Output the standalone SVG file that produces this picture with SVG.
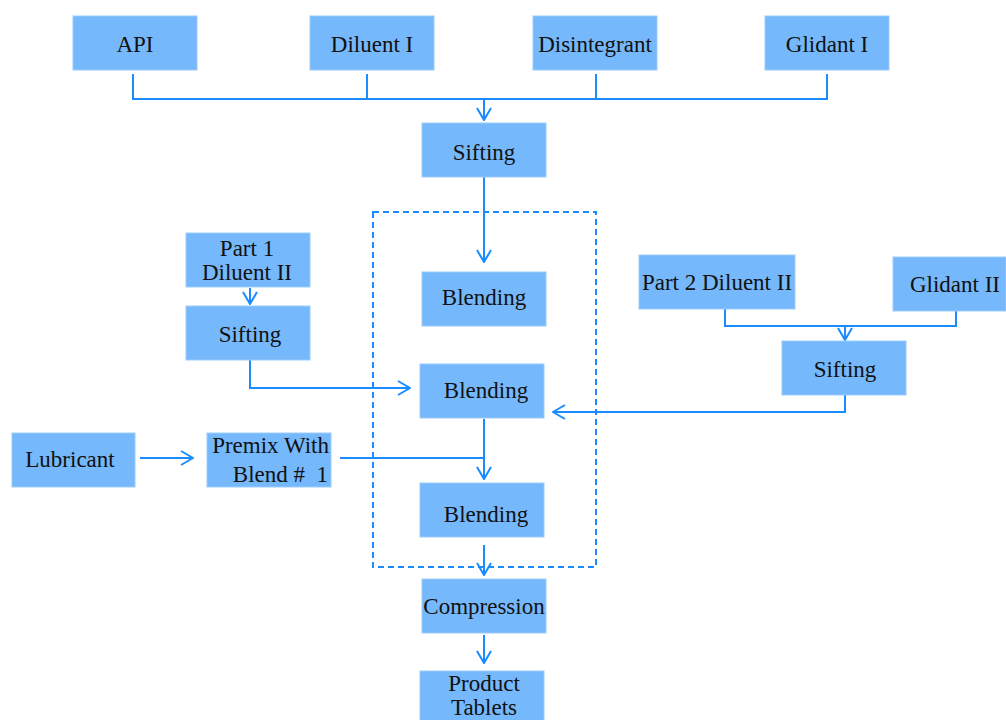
<svg xmlns="http://www.w3.org/2000/svg" width="1006" height="720" viewBox="0 0 1006 720">
<style>
.box{fill:#75b8fb;stroke:#9ccbfb;stroke-width:1}
.t{font-family:"Liberation Serif","Times New Roman",serif;font-size:23px;fill:#111;text-anchor:middle}
.c{fill:none;stroke:#1a8cff;stroke-width:2}
.d{fill:none;stroke:#1a8cff;stroke-width:2;stroke-dasharray:6,4}
</style>
<defs>
<marker id="ah" viewBox="0 0 14 16" refX="13" refY="8" markerWidth="14" markerHeight="16" markerUnits="userSpaceOnUse" orient="auto">
<path d="M1,1 L13,8 L1,15" fill="none" stroke="#1a8cff" stroke-width="2"/>
</marker>
</defs>
<rect width="1006" height="720" fill="#fff"/>
<g id="connectors">
<rect class="d" x="373" y="212" width="223" height="355"/>
<polyline class="c" points="133,74 133,99 827,99 827,74"/>
<line class="c" x1="367" y1="74" x2="367" y2="99"/>
<line class="c" x1="596" y1="74" x2="596" y2="99"/>
<line class="c" x1="484" y1="99" x2="484" y2="120" marker-end="url(#ah)"/>
<line class="c" x1="484" y1="177" x2="484" y2="262" marker-end="url(#ah)"/>
<line class="c" x1="250" y1="288" x2="250" y2="304" marker-end="url(#ah)"/>
<polyline class="c" points="250,360 250,388 410,388" marker-end="url(#ah)"/>
<polyline class="c" points="725,309 725,326 956,326 956,311"/>
<line class="c" x1="845" y1="326" x2="845" y2="340" marker-end="url(#ah)"/>
<polyline class="c" points="845,395 845,412 553,412" marker-end="url(#ah)"/>
<line class="c" x1="140" y1="458" x2="193" y2="458" marker-end="url(#ah)"/>
<line class="c" x1="340" y1="458" x2="484" y2="458"/>
<line class="c" x1="484" y1="419" x2="484" y2="479" marker-end="url(#ah)"/>
<line class="c" x1="484" y1="545" x2="484" y2="575" marker-end="url(#ah)"/>
<line class="c" x1="484" y1="635" x2="484" y2="663" marker-end="url(#ah)"/>
</g>
<g id="api"><rect class="box" x="73" y="16" width="124" height="54"/><text class="t" x="135" y="52">API</text></g>
<g id="diluent1"><rect class="box" x="310" y="16" width="124" height="54"/><text class="t" x="372" y="52">Diluent I</text></g>
<g id="disintegrant"><rect class="box" x="533" y="16" width="124" height="54"/><text class="t" x="595" y="52">Disintegrant</text></g>
<g id="glidant1"><rect class="box" x="765" y="16" width="124" height="54"/><text class="t" x="827" y="52">Glidant I</text></g>
<g id="sifting1"><rect class="box" x="422" y="123" width="124" height="54"/><text class="t" x="484" y="160">Sifting</text></g>
<g id="blending1"><rect class="box" x="422" y="272" width="124" height="54"/><text class="t" x="484" y="305">Blending</text></g>
<g id="part1"><rect class="box" x="186" y="233" width="124" height="54"/><text class="t" x="247" y="256">Part 1</text><text class="t" x="247" y="280">Diluent II</text></g>
<g id="sifting2"><rect class="box" x="186" y="306" width="124" height="54"/><text class="t" x="250" y="342">Sifting</text></g>
<g id="blending2"><rect class="box" x="420" y="364" width="124" height="54"/><text class="t" x="486" y="398">Blending</text></g>
<g id="part2"><rect class="box" x="639" y="255" width="156" height="54"/><text class="t" x="717" y="290">Part 2 Diluent II</text></g>
<g id="glidant2"><rect class="box" x="893" y="257" width="113" height="54"/><text class="t" x="955" y="292">Glidant II</text></g>
<g id="sifting3"><rect class="box" x="782" y="341" width="124" height="54"/><text class="t" x="845" y="377">Sifting</text></g>
<g id="lubricant"><rect class="box" x="12" y="433" width="123" height="54"/><text class="t" x="70" y="467">Lubricant</text></g>
<g id="premix"><rect class="box" x="207" y="433" width="124" height="54"/><text class="t" x="329" y="453" style="text-anchor:end">Premix With</text><text class="t" x="328" y="482" style="text-anchor:end" xml:space="preserve">Blend #  1</text></g>
<g id="blending3"><rect class="box" x="420" y="483" width="124" height="54"/><text class="t" x="486" y="522">Blending</text></g>
<g id="compression"><rect class="box" x="422" y="579" width="124" height="54"/><text class="t" x="484" y="614">Compression</text></g>
<g id="product"><rect class="box" x="420" y="671" width="124" height="60"/><text class="t" x="484" y="691">Product</text><text class="t" x="484" y="715">Tablets</text></g>
</svg>
